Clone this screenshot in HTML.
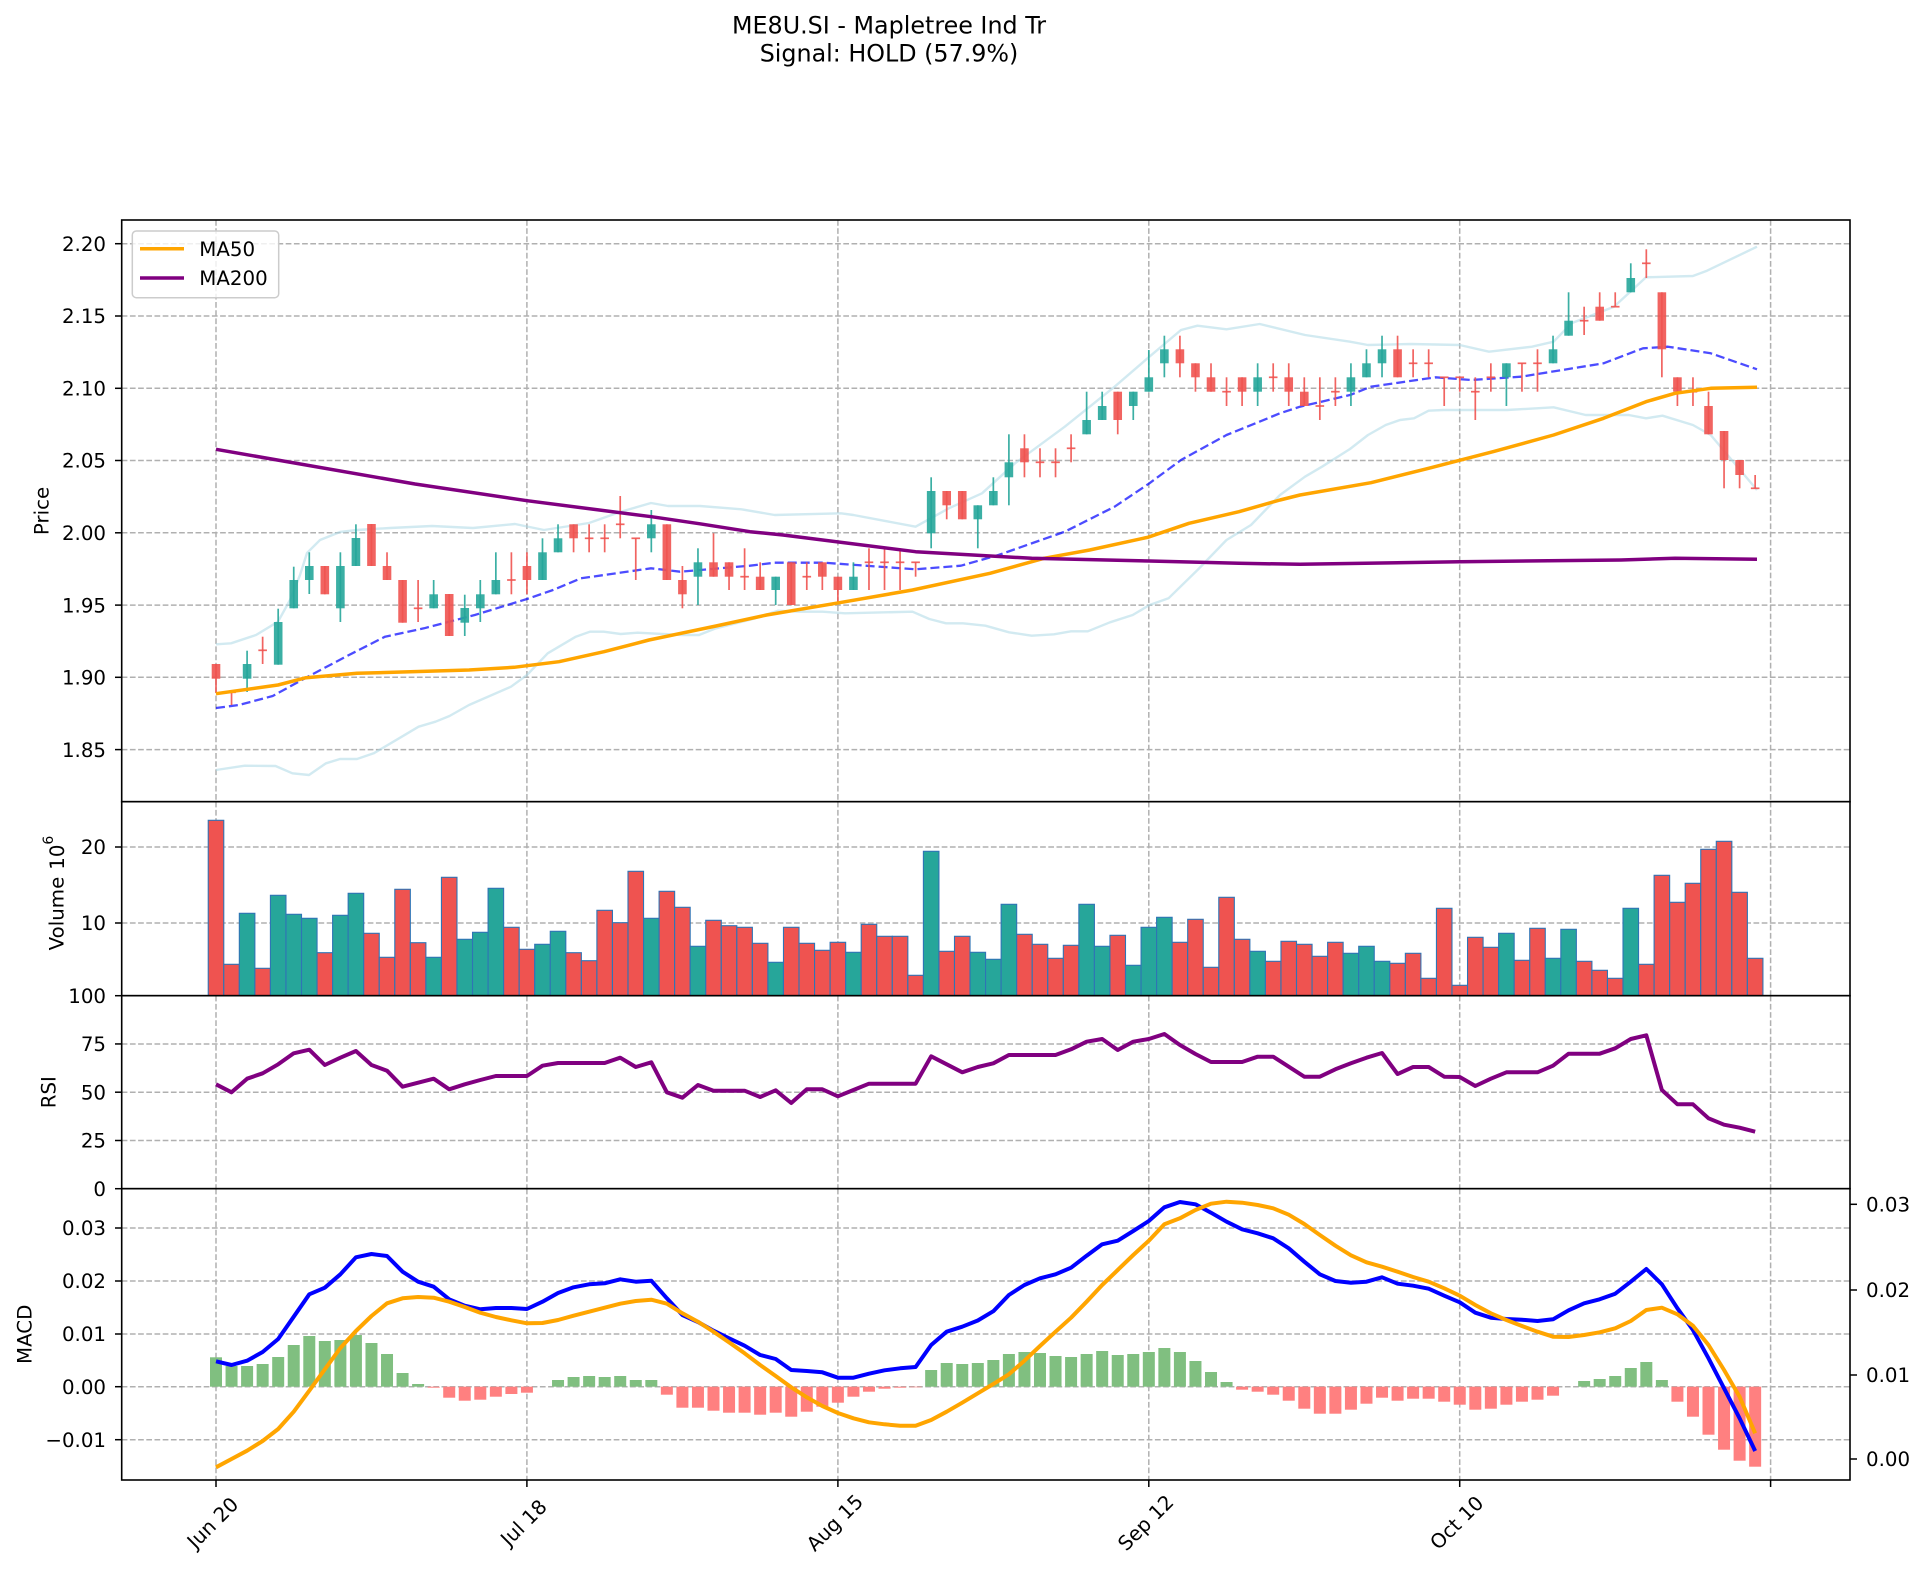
<!DOCTYPE html>
<html><head><meta charset="utf-8">
<style>
html,body{margin:0;padding:0;background:#fff;}
svg{display:block;}
text{font-family:"DejaVu Sans","Liberation Sans",sans-serif;fill:#000;}
</style></head><body>
<svg id="c" width="1925" height="1576" viewBox="0 0 1925 1576" xmlns="http://www.w3.org/2000/svg">
<rect width="1925" height="1576" fill="#fff"/>
<g id="grid"></g>
<g id="plot"></g>
<g id="frame" fill="none" stroke="#000" stroke-width="1.6">
<rect x="121.7" y="220" width="1728.3" height="581.7"/>
<rect x="121.7" y="801.7" width="1728.3" height="194"/>
<rect x="121.7" y="995.7" width="1728.3" height="193"/>
<rect x="121.7" y="1188.7" width="1728.3" height="291.3"/>
</g>
<g id="ticks" stroke="#000" stroke-width="1.5"></g>

<!-- Title -->
<text x="889" y="33.5" font-size="23.8" text-anchor="middle">ME8U.SI - Mapletree Ind Tr</text>
<text x="889" y="61.5" font-size="23.8" text-anchor="middle">Signal: HOLD (57.9%)</text>

<!-- Legend -->
<rect x="132.3" y="231" width="146.4" height="66.7" rx="4" fill="#fff" fill-opacity="0.8" stroke="#cccccc" stroke-width="1.5"/>
<line x1="140" y1="248.7" x2="184" y2="248.7" stroke="#ffa500" stroke-width="3.5"/>
<line x1="140" y1="278" x2="184" y2="278" stroke="#800080" stroke-width="3.5"/>
<text x="199.3" y="255.9" font-size="19.8">MA50</text>
<text x="199.3" y="285.2" font-size="19.8">MA200</text>

<!-- Left tick labels -->
<g font-size="19.8" text-anchor="end">
<text x="106" y="250.9">2.20</text>
<text x="106" y="323.2">2.15</text>
<text x="106" y="395.5">2.10</text>
<text x="106" y="467.7">2.05</text>
<text x="106" y="540">2.00</text>
<text x="106" y="612.3">1.95</text>
<text x="106" y="684.5">1.90</text>
<text x="106" y="756.8">1.85</text>
<text x="106" y="854.2">20</text>
<text x="106" y="930.2">10</text>
<text x="106" y="1002.9">100</text>
<text x="106" y="1051.1">75</text>
<text x="106" y="1099.4">50</text>
<text x="106" y="1147.7">25</text>
<text x="106" y="1195.9">0</text>
<text x="106" y="1235.2">0.03</text>
<text x="106" y="1288.2">0.02</text>
<text x="106" y="1341.2">0.01</text>
<text x="106" y="1393.9">0.00</text>
<text x="106" y="1446.9">−0.01</text>
</g>
<!-- Right tick labels -->
<g font-size="19.8" text-anchor="start">
<text x="1866" y="1211.5">0.03</text>
<text x="1866" y="1297.2">0.02</text>
<text x="1866" y="1382.2">0.01</text>
<text x="1866" y="1466.2">0.00</text>
</g>
<!-- X tick labels -->
<g font-size="19.8" text-anchor="middle">
<text transform="translate(213,1523) rotate(-45)" dominant-baseline="central">Jun 20</text>
<text transform="translate(524,1523) rotate(-45)" dominant-baseline="central">Jul 18</text>
<text transform="translate(835,1523) rotate(-45)" dominant-baseline="central">Aug 15</text>
<text transform="translate(1146,1523) rotate(-45)" dominant-baseline="central">Sep 12</text>
<text transform="translate(1457,1523) rotate(-45)" dominant-baseline="central">Oct 10</text>
</g>
<!-- Y labels -->
<g font-size="19.8" text-anchor="middle">
<text transform="translate(42,511) rotate(-90)" dominant-baseline="central">Price</text>
<text transform="translate(57,893) rotate(-90)" dominant-baseline="central">Volume<tspan dx="7">10</tspan><tspan font-size="14" dy="-8">6</tspan></text>
<text transform="translate(49,1092.2) rotate(-90)" dominant-baseline="central">RSI</text>
<text transform="translate(25,1334.3) rotate(-90)" dominant-baseline="central">MACD</text>
</g>
</svg>
<script>
(function(){
const NS="http://www.w3.org/2000/svg";
const plot=document.getElementById('plot');
const grid=document.getElementById('grid');
const ticks=document.getElementById('ticks');
function el(tag,attrs,parent){const e=document.createElementNS(NS,tag);for(const k in attrs)e.setAttribute(k,attrs[k]);(parent||plot).appendChild(e);return e;}
const X=i=>216+15.547*i;
const TEAL='#26a69a',RED='#ef5350';
const L=121.7,R=1850;
const GS={stroke:'#b0b0b0','stroke-width':1.5,'stroke-dasharray':'5.7 2.5',fill:'none'};
const dates=[216,526.9,837.9,1148.8,1459.7,1770.6];
const panels=[[220,801.7],[801.7,995.7],[995.7,1188.7],[1188.7,1480]];
panels.forEach(p=>dates.forEach(x=>el('line',Object.assign({x1:x,x2:x,y1:p[0],y2:p[1]},GS),grid)));
[243.7,316,388.3,460.5,532.8,605.1,677.3,749.6, 847,923, 1043.95,1092.2,1140.5, 1228,1281,1334,1386.7,1439.7].forEach(y=>el('line',Object.assign({x1:L,x2:R,y1:y,y2:y},GS),grid));
[243.7,316,388.3,460.5,532.8,605.1,677.3,749.6,847,923,995.7,1043.95,1092.2,1140.5,1188.7,1228,1281,1334,1386.7,1439.7].forEach(y=>el('line',{x1:115,x2:L,y1:y,y2:y},ticks));
[1204.3,1290,1375,1459].forEach(y=>el('line',{x1:R,x2:1857,y1:y,y2:y},ticks));
dates.forEach(x=>el('line',{x1:x,x2:x,y1:1480,y2:1487},ticks));

function poly(pts,attrs){el('polyline',Object.assign({points:pts.map(p=>p.join(',')).join(' '),fill:'none','stroke-linejoin':'round'},attrs));}

const bbU=[[216,644.3],[231,643.3],[256,635],[278,621.7],[290,600],[300,575],[307,553],[320,540],[340,532],[357,530],[373,529],[390,528],[432,526],[473,528],[515,524],[544,530],[589,523],[620,512],[651,503],[668,506],[700,506],[741.5,509.3],[774.6,515],[841,513.3],[853.4,515],[915.6,526.7],[948.8,508.3],[982,493.3],[1015,463.3],[1064.8,426.7],[1114.6,386.7],[1149.4,356.7],[1181,330],[1197.5,325.7],[1226.5,329.3],[1259.7,324],[1305,335],[1350,341.7],[1367.9,345],[1410.7,344],[1459.6,345],[1489,351.7],[1532,346.7],[1553.6,341.7],[1571.4,323.3],[1614,306.7],[1646,277.3],[1692.9,276],[1707,270.7],[1757,246.7]];
const bbL=[[216,770],[244.7,765.7],[275.5,766],[292.4,773.3],[309,775],[326,763.3],[340,759],[357,759],[373.7,753.3],[401.8,736.7],[418.6,726.7],[435.5,721.7],[449.5,716],[469,705],[511,686.7],[527,675],[547.7,653.3],[575.8,636.7],[589.8,631.7],[603.8,631.7],[620.7,634],[637.5,632.7],[682.4,635],[699,635],[716,628.3],[755.3,618.3],[777.8,610.7],[800,611.7],[822.7,611.7],[845,613.3],[912.5,611.7],[929.3,619],[946,623.3],[963,623.3],[985.4,625.7],[1009,632.3],[1031.7,635.7],[1054,634.3],[1071,631.3],[1087.8,631.3],[1110,622.3],[1132.7,615],[1149.6,605],[1168.5,598.3],[1197.5,570],[1226.5,540],[1251,525],[1280,495],[1305,476.7],[1322,466.7],[1350,449],[1368,435],[1385.7,425],[1400,420],[1414,418.3],[1428.6,410.7],[1443,410],[1507,410],[1553.6,407.3],[1585.7,415],[1628.6,415],[1646,418.3],[1662.5,415.7],[1692.9,425],[1710.7,435],[1757,490]];
const bbM=[[216,708],[239,705],[272.7,696],[306,677.7],[345.7,656.7],[385,636.7],[424,628.3],[474.8,615],[527,599],[553,590],[581,578.3],[651,568.3],[680,571.7],[700,570],[750,565.7],[774.6,562.7],[824,562.7],[915.6,569.3],[961,565.7],[998.5,555],[1064.8,531.7],[1114.6,506.7],[1149.4,483.3],[1181,460],[1226.5,435],[1280,413.3],[1300,406.7],[1350,395],[1371,386.7],[1435.7,377.3],[1471,380],[1521,376.7],[1603.6,363.3],[1643,348.3],[1668,346.7],[1710.7,353.3],[1757,369.3]];
poly(bbU,{stroke:'#add8e6','stroke-opacity':0.55,'stroke-width':2.4});
poly(bbL,{stroke:'#add8e6','stroke-opacity':0.55,'stroke-width':2.4});
poly(bbM,{stroke:'#0000ff','stroke-opacity':0.7,'stroke-width':2.3,'stroke-dasharray':'9 4'});

const cd=[
[664,678.7,664,693],[692.3,692.3,692.3,705],[678.7,664,650.7,692],[650.3,650.3,636.7,664],[664.7,622,608.7,664.7],
[608.3,580,566.7,608.3],[580,566,552.3,594],[566,594.3,566,594.3],[608.3,566,552.3,622],[566,538,524.3,566],
[524,566,524,566],[566,580,552.3,580],[580,622.7,580,622.7],[608.3,608.3,580,622],[608.3,594.3,580,608.3],
[594,636,594,636],[622.7,608,594.7,636],[608.3,594.3,580,622],[594.3,580,552.3,594.3],[580,580,552.3,594.3],
[566,580,552.3,594.3],[580,552.3,538.3,580],[552.3,538.3,524.3,552.3],[524.3,538.3,524.3,552.3],[538.3,538.3,524.3,552.3],
[538.3,538.3,524.3,552.3],[524.3,524.3,496,538.3],[538.3,538.3,538.3,580],[538.3,524.3,510,552.3],[524.3,580,524.3,580],
[580,594.3,566,608.3],[576.7,562.3,548.3,605],[562.3,576.7,533.3,576.7],[562.3,576.7,562.3,590],[576.7,576.7,548.3,590],
[576.7,590,562.3,590],[590,576.7,576.7,605],[562.3,605,562.3,605],[576.7,576.7,562.3,590],[562.3,576.7,562.3,590],
[576.7,590,576.7,603.3],[590,576.7,562.3,590],[562.3,562.3,548.3,590],[562.3,562.3,548.3,590],[562.3,562.3,548.3,590],
[562.3,562.3,562.3,576.7],[533.3,491,477.3,548.3],[491,505.3,491,519.3],[491,519.3,491,519.3],[519.3,505.3,505.3,548.3],
[505.3,491,477.3,505.3],[477.3,462.3,434.3,505.3],[448.3,462.3,434.3,477.3],[462.3,462.3,448.3,477.3],[462.3,462.3,448.3,477.3],
[448.3,448.3,434.3,462.3],[434.3,420,391.7,434.3],[420,406,391.7,420],[391.7,420,391.7,434.3],[406,391.7,391.7,420],
[391.7,377.3,350,391.7],[363.3,349.3,335.7,377.3],[349.3,363.3,335.7,377.3],[363.3,377.3,363.3,391.7],[377.3,391.7,363.3,391.7],
[391.7,391.7,377.3,406],[377.3,391.7,377.3,406],[391.7,377.3,363.3,406],[377.3,377.3,363.3,391.7],[377.3,391.7,363.3,406],
[391.7,406,377.3,406],[406,406,377.3,420],[391.7,391.7,377.3,406],[391.7,377.3,363.3,406],[377.3,363.3,349.3,377.3],
[363.3,349.3,335.7,377.3],[349.3,377.3,335.7,377.3],[363.3,363.3,349.3,377.3],[363.3,363.3,349.3,377.3],[377.3,377.3,377.3,406],
[377.3,377.3,377.3,391.7],[391.7,391.7,377.3,420],[377.3,377.3,363.3,391.7],[377.3,363.3,363.3,406],[363.3,363.3,363.3,391.7],
[363.3,363.3,349.3,391.7],[363.3,349.3,335.7,363.3],[335.7,320.7,292.3,335.7],[320.7,320.7,306.7,335],[306.7,320.7,292.3,320.7],
[306.7,306.7,292.3,306.7],[292.3,278,263.3,292.3],[263.3,263.3,249.3,278],[292.3,349.3,292.3,377.3],[377.3,391.7,377.3,406],
[391.7,391.7,377.3,406],[406,434.3,391.7,434.3],[431,460,431,488.3],[460,475,460,488.3],[488.3,488.3,475,488.3]
];
const cols=cd.map(c=>c[1]<c[0]-0.5?TEAL:RED);
cd.forEach((c,i)=>{
  const x=X(i),col=cols[i];
  el('rect',{x:x-0.85,y:c[2],width:1.7,height:Math.max(c[3]-c[2],0.5),fill:col,'fill-opacity':0.9});
  const t=Math.min(c[0],c[1]),b=Math.max(c[0],c[1]);
  if(b-t<1) el('rect',{x:x-4.3,y:t-0.85,width:8.6,height:1.7,fill:col,'fill-opacity':0.9});
  else el('rect',{x:x-4.3,y:t,width:8.6,height:b-t,fill:col,'fill-opacity':0.9});
});

const ma50=[[216,693.7],[278,685],[306,677.7],[357,673.3],[469,670],[514,667.3],[559,661.7],[604,651.7],[649,640],[716,626],[766.6,615],[839.5,602.7],[912.5,590],[990,573.3],[1044,558.3],[1089.7,550],[1147.8,537.3],[1189,523.3],[1239,511.7],[1280,500],[1300,495],[1371,482.7],[1428.6,468.3],[1493,451.7],[1553.6,435],[1603.6,418.3],[1646,401.7],[1675,393.3],[1710.7,388.3],[1757,387.3]];
const ma200=[[216,449.3],[415,484],[527,500.7],[651.4,516.7],[700,523.8],[750,531.7],[783,535],[915.6,551.7],[1031.7,558.3],[1149.4,561],[1239,563.3],[1300,564.3],[1459.6,561.7],[1621,560],[1675,558.3],[1757,559.3]];
poly(ma50,{stroke:'#ffa500','stroke-width':3.5});
poly(ma200,{stroke:'#800080','stroke-width':3.5});

const vt=[820.3,964.3,913.3,968.3,895.3,914.3,918.3,952.7,915.3,893.3,
933.3,957.3,889.3,942.7,957.3,877.3,939.3,932.3,888.3,927.3,
949.3,944.3,931.3,952.7,960.7,910.3,922.7,871.3,918.3,891.3,
907.3,946.3,920.3,925.7,927.3,943.3,962.3,927.3,943.3,950.3,
942.3,952.3,924.3,936.3,936.3,975.3,851.3,951.3,936.3,952.3,
959.3,904.3,934.3,944.3,958.3,945.3,904.3,946.3,935.3,965.3,
927.3,917.3,942.3,919.3,967.3,897.3,939.3,951.3,961.3,941.3,
944.3,956.3,942.3,953.3,946.3,961.3,963.3,953.3,978.3,908.3,
985.3,937.3,947.3,933.3,960.3,928.3,958.3,929.3,961.3,970.3,
978.3,908.3,964.3,875.3,902.3,883.3,849.3,841.3,892.3,958.3];
vt.forEach((y,i)=>{el('rect',{x:X(i)-7.77,y:y,width:15.547,height:995.7-y,fill:cols[i],stroke:'#2f74b5','stroke-width':1.1});});

const rsi=[1084.3,1092.3,1078.7,1073.3,1064.3,1053.3,1049.7,1065,1057.7,1051,
1065,1070.7,1086.7,1082.7,1078.7,1089.3,1084.3,1080,1076,1076,
1076,1065.7,1063,1063,1063,1063,1057.7,1067,1062.3,1092.3,
1097.7,1085,1090.7,1090.7,1090.7,1097,1090.3,1103,1089.3,1089.3,
1096.3,1090,1083.7,1083.7,1083.7,1083.7,1056.3,1064.3,1072.3,1067,
1063.3,1055,1055,1055,1055,1049.3,1041.7,1039,1050,1041.7,
1039,1034,1045,1054,1062,1062,1062,1056.7,1056.7,1066.7,
1076.7,1076.7,1069.3,1063.3,1057.7,1053,1074,1067,1067,1076.7,
1077,1086,1078.7,1072.3,1072.3,1072.3,1065.7,1053.7,1053.7,1053.7,
1048.3,1039,1035.3,1090,1104.3,1104.3,1118.3,1124.7,1127.7,1131.7];
poly(rsi.map((y,i)=>[X(i),y]),{stroke:'#800080','stroke-width':4});

const base=1386.7;
const ht=[1357.3,1366,1366,1364,1357,1345,1336,1341,1340,1335,
1343,1354,1373,1384,1387.7,1397.7,1400.7,1399.7,1396.7,1394,
1392.7,1386.7,1380,1377,1376,1377,1376,1380,1380,1394.7,
1407.7,1407.7,1410.7,1412.7,1412.7,1414.7,1412.7,1416.7,1411.7,1406.7,
1402.7,1396.7,1391.7,1388.7,1387.7,1387.3,1370,1363,1364,1363,
1360,1354,1352,1353,1356,1357,1354,1351,1355,1354,
1352,1348,1352,1361,1372,1382,1389.7,1391.7,1394.7,1400.7,
1408.7,1413.7,1413.7,1409.7,1403.7,1397.7,1400.7,1398.7,1398.7,1401.7,
1404.7,1409.7,1408.7,1404.7,1401.7,1399.7,1395.7,1386.7,1381,1379,
1376,1368,1362,1380,1401.7,1416.7,1434.7,1449.7,1460.7,1466.7];
ht.forEach((y,i)=>{if(Math.abs(y-base)<0.2)return;const t=Math.min(y,base),b=Math.max(y,base);el('rect',{x:X(i)-6,y:t,width:12,height:b-t,fill:y<base?'#80bf80':'#ff8080'});});
const macd=[1361.3,1365,1360.7,1352,1339,1316.7,1294.3,1287.7,1274.3,1257.3,
1254,1256,1271.7,1281.7,1286.7,1299.3,1305.7,1309.3,1308,1308,
1309,1301.7,1293,1287.3,1284.3,1283.3,1279.3,1281.7,1280.7,1298.3,
1315,1322,1330.7,1338.3,1345.7,1355,1359,1370,1371,1372.3,
1377.7,1377.7,1373.7,1370.3,1368.3,1367,1345,1331.7,1326.7,1320.5,
1311.2,1295,1285,1278.3,1274.3,1267.7,1255.7,1244.3,1240.7,1231,
1221,1207.3,1202,1204.3,1212.7,1221.7,1229.3,1233.3,1238.3,1248.3,
1261.7,1274.3,1281,1282.7,1281.7,1277.3,1283.7,1285.7,1288.7,1295.7,
1302.3,1312.7,1317.7,1319,1319.7,1321,1319.3,1310.3,1303.3,1299.3,
1293.7,1281.7,1269,1284.3,1308.3,1330,1358.3,1388.3,1418.3,1451];
const sig=[1467.3,1459,1450.7,1441,1429,1411.7,1390.7,1369.3,1348,1331,
1316,1303.3,1298.3,1297,1297.7,1301.7,1307,1312.7,1317,1320.3,
1323.3,1323,1320,1315.7,1311.7,1307.7,1303.7,1301,1299.7,1303.7,
1313.3,1321.7,1331.7,1342.3,1353.3,1365,1376,1387.3,1397.3,1406,
1413,1418.3,1422.3,1424.3,1425.7,1425.7,1420,1411.7,1402.7,1393.3,
1384,1374.3,1360.7,1346,1331.7,1317.7,1301.7,1285,1270,1255,
1240.7,1224.3,1218.3,1210,1203.7,1201.7,1202.7,1205,1208.3,1214.7,
1224,1235,1245.7,1255.3,1262.3,1266.7,1271.7,1277,1281.7,1288.3,
1295.7,1305,1313.3,1320,1326,1331.7,1336.7,1337,1335,1332.3,
1328.3,1321,1310,1307.7,1314.3,1325.7,1345,1370,1396.7,1433.3];
poly(macd.map((y,i)=>[X(i),y]),{stroke:'#0000ff','stroke-width':4});
poly(sig.map((y,i)=>[X(i),y]),{stroke:'#ffa500','stroke-width':4});
})();
</script>
</body></html>
